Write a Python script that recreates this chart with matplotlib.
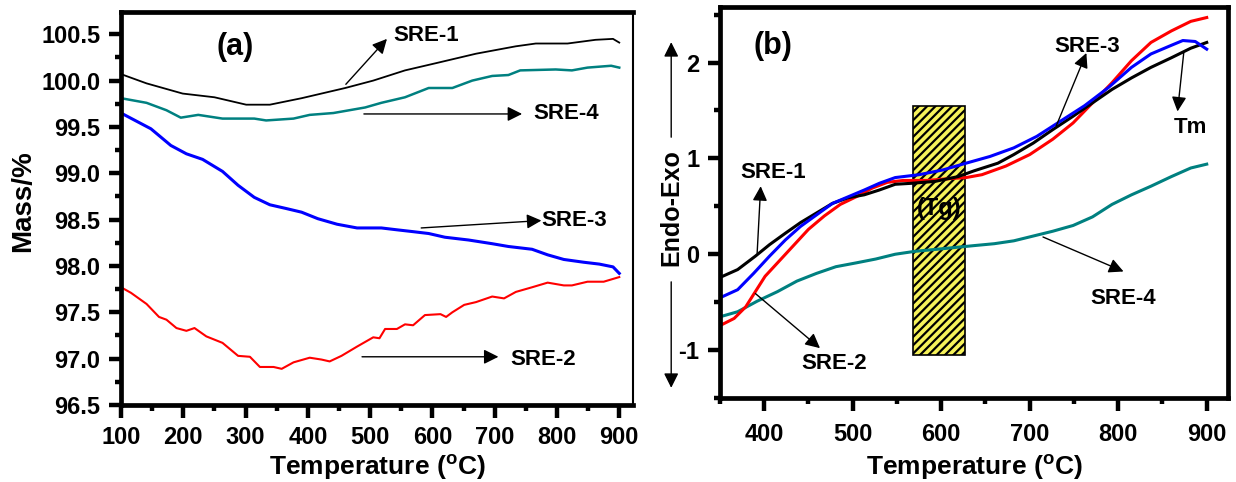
import matplotlib
matplotlib.use("Agg")
import matplotlib.pyplot as plt
from matplotlib.patches import Rectangle
from matplotlib.ticker import MultipleLocator, FormatStrFormatter

plt.rcParams["font.family"] = ["Liberation Sans", "DejaVu Sans"]
plt.rcParams["font.weight"] = "bold"
plt.rcParams["mathtext.fontset"] = "custom"
plt.rcParams["mathtext.rm"] = "Liberation Sans:bold"
plt.rcParams["mathtext.bf"] = "Liberation Sans:bold"
plt.rcParams["axes.unicode_minus"] = False
plt.rcParams["hatch.linewidth"] = 1.6

# ---- TGA data (a) ----
t1 = [100, 141, 199, 250, 301, 339, 390, 460, 505, 556, 607, 670, 734, 766, 817, 862, 890, 900]
m1 = [100.07, 99.97, 99.86, 99.82, 99.74, 99.74, 99.81, 99.92, 100.0, 100.11, 100.19, 100.29,
      100.37, 100.40, 100.40, 100.44, 100.45, 100.41]

t4 = [100, 141, 173, 196, 224, 263, 314, 333, 377, 403, 441, 492, 518, 556, 594, 632, 664,
      696, 722, 741, 798, 824, 849, 887, 900]
m4 = [99.81, 99.76, 99.68, 99.60, 99.63, 99.59, 99.59, 99.57, 99.59, 99.63, 99.65, 99.71,
      99.76, 99.82, 99.92, 99.92, 100.0, 100.05, 100.06, 100.11, 100.12, 100.11, 100.14,
      100.16, 100.14]

t3 = [100, 148, 180, 205, 231, 263, 288, 314, 339, 365, 390, 416, 447, 479, 518, 543, 569,
      594, 620, 658, 696, 722, 760, 785, 811, 843, 868, 890, 900]
m3 = [99.65, 99.48, 99.30, 99.21, 99.15, 99.02, 98.87, 98.74, 98.66, 98.62, 98.58, 98.51,
      98.45, 98.41, 98.41, 98.39, 98.37, 98.35, 98.31, 98.28, 98.24, 98.21, 98.18, 98.12,
      98.07, 98.04, 98.02, 97.99, 97.92]

t2 = [100, 116, 141, 161, 173, 189, 205, 218, 237, 263, 288, 307, 323, 345, 358, 377, 403,
      422, 435, 454, 479, 505, 515, 524, 543, 556, 569, 588, 613, 622, 632, 651, 670, 696,
      715, 734, 760, 785, 811, 824, 849, 875, 890, 900]
m2 = [97.77, 97.71, 97.59, 97.45, 97.42, 97.33, 97.30, 97.33, 97.24, 97.17, 97.03, 97.02,
      96.91, 96.91, 96.89, 96.96, 97.01, 96.99, 96.97, 97.03, 97.13, 97.23, 97.22, 97.32,
      97.32, 97.37, 97.36, 97.47, 97.48, 97.45, 97.50, 97.58, 97.61, 97.67, 97.65, 97.72,
      97.77, 97.82, 97.79, 97.79, 97.83, 97.83, 97.86, 97.88]

# ---- DSC data (b) ----
d1_t = [353, 370, 390, 406, 424, 441, 459, 477, 495, 513, 530, 548, 566, 593, 619, 637, 664,
        682, 704, 726, 749, 771, 793, 815, 837, 860, 882, 900]
d1 = [-0.23, -0.16, -0.02, 0.10, 0.22, 0.33, 0.43, 0.53, 0.59, 0.62, 0.67, 0.73, 0.74, 0.76,
      0.81, 0.87, 0.95, 1.04, 1.16, 1.30, 1.44, 1.58, 1.72, 1.84, 1.95, 2.05, 2.15, 2.21]

d2_t = [351, 366, 379, 390, 401, 415, 432, 450, 468, 486, 504, 522, 539, 557, 584, 611, 628,
        646, 673, 700, 726, 749, 771, 793, 815, 837, 860, 882, 900]
d2 = [-0.74, -0.67, -0.55, -0.39, -0.23, -0.09, 0.08, 0.26, 0.40, 0.52, 0.60, 0.69, 0.75,
      0.77, 0.77, 0.79, 0.80, 0.83, 0.92, 1.04, 1.20, 1.37, 1.58, 1.79, 2.02, 2.21, 2.33,
      2.43, 2.47]

d3_t = [351, 370, 388, 406, 424, 441, 459, 477, 495, 513, 530, 548, 575, 602, 628, 655, 682,
        708, 735, 762, 789, 815, 837, 860, 873, 887, 900]
d3 = [-0.45, -0.37, -0.20, -0.02, 0.15, 0.29, 0.41, 0.53, 0.60, 0.67, 0.74, 0.80, 0.83, 0.88,
      0.95, 1.02, 1.11, 1.23, 1.39, 1.55, 1.74, 1.95, 2.09, 2.18, 2.23, 2.22, 2.14]

d4_t = [351, 370, 392, 415, 437, 459, 481, 504, 526, 548, 570, 593, 615, 637, 660, 682, 704,
        726, 749, 771, 793, 815, 837, 860, 882, 900]
d4 = [-0.65, -0.60, -0.49, -0.39, -0.28, -0.20, -0.13, -0.09, -0.05, 0.0, 0.03, 0.05, 0.07,
      0.09, 0.11, 0.14, 0.19, 0.24, 0.30, 0.39, 0.52, 0.62, 0.71, 0.81, 0.90, 0.94]

tg_range = (568, 627)
tg_height = (-1.05, 1.55)

fig = plt.figure(figsize=(12.36, 4.82), dpi=100)
ax1 = fig.add_axes([0.0979, 0.1598, 0.4142, 0.8153])
ax2 = fig.add_axes([0.5825, 0.1743, 0.4110, 0.8112])


def style_axis(ax):
    for side in ["left", "bottom", "top", "right"]:
        ax.spines[side].set_linewidth(3.4)
    ax.tick_params(which="major", direction="out", length=9, width=3.2, labelsize=17, pad=6,
                   top=False, right=False)
    ax.tick_params(which="minor", direction="out", length=4.5, width=3.2, top=False, right=False)
    for lab in ax.get_xticklabels() + ax.get_yticklabels():
        lab.set_fontweight("bold")


arrow = dict(arrowstyle="-|>", color="black", lw=1, mutation_scale=22, shrinkA=0, shrinkB=0)

# (a) mass loss
ax1.plot(t1, m1, color="black", lw=1.3)
ax1.plot(t4, m4, color="#008080", lw=1.8)
ax1.plot(t3, m3, color="#0000ff", lw=2.2)
ax1.plot(t2, m2, color="#ff0000", lw=1.5)
ax1.set_xlim(100, 922)
ax1.set_ylim(96.5, 100.74)
ax1.xaxis.set_major_locator(MultipleLocator(100))
ax1.xaxis.set_minor_locator(MultipleLocator(50))
ax1.yaxis.set_major_locator(MultipleLocator(0.5))
ax1.yaxis.set_minor_locator(MultipleLocator(0.25))
ax1.yaxis.set_major_formatter(FormatStrFormatter("%.1f"))
style_axis(ax1)
ax1.spines["right"].set_linewidth(1.5)
ax1.set_xlabel(r"Temperature ($^{\mathbf{o}}$C)", fontsize=19, fontweight="bold")
ax1.set_ylabel("Mass/%", fontsize=20, fontweight="bold")
ax1.xaxis.set_label_coords(0.5, -0.12)
ax1.yaxis.set_label_coords(-0.165, 0.52)

ax1.text(283, 100.36, "(a)", fontsize=22, fontweight="bold", ha="center", va="center")
ax1.annotate("", xy=(527, 100.45), xytext=(461, 99.96), arrowprops=arrow)
ax1.text(537, 100.49, "SRE-1", fontsize=16, fontweight="bold", ha="left", va="center")
ax1.annotate("", xy=(744, 99.64), xytext=(490, 99.64), arrowprops=arrow)
ax1.text(762, 99.64, "SRE-4", fontsize=16, fontweight="bold", ha="left", va="center")
ax1.annotate("", xy=(775, 98.49), xytext=(582, 98.41), arrowprops=arrow)
ax1.text(775, 98.49, "SRE-3", fontsize=16, fontweight="bold", ha="left", va="center")
ax1.annotate("", xy=(706, 97.02), xytext=(487, 97.02), arrowprops=arrow)
ax1.text(725, 96.99, "SRE-2", fontsize=16, fontweight="bold", ha="left", va="center")

# (b) DSC curves
ax2.add_patch(Rectangle((tg_range[0], tg_height[0]), tg_range[1] - tg_range[0],
                        tg_height[1] - tg_height[0], facecolor="#f6f25a",
                        edgecolor="black", hatch="////", lw=1.2, zorder=1))
ax2.plot(d4_t, d4, color="#008080", lw=2.2, zorder=2)
ax2.plot(d2_t, d2, color="#ff0000", lw=2.2, zorder=2)
ax2.plot(d1_t, d1, color="black", lw=2.2, zorder=2)
ax2.plot(d3_t, d3, color="#0000ff", lw=2.2, zorder=2)
ax2.set_xlim(350, 924)
ax2.set_ylim(-1.5, 2.58)
ax2.xaxis.set_major_locator(MultipleLocator(100))
ax2.xaxis.set_minor_locator(MultipleLocator(50))
ax2.yaxis.set_major_locator(MultipleLocator(1))
ax2.yaxis.set_minor_locator(MultipleLocator(0.5))
style_axis(ax2)
ax2.tick_params(axis="x", which="major", pad=9)
ax2.set_xlabel(r"Temperature ($^{\mathbf{o}}$C)", fontsize=19, fontweight="bold")
ax2.xaxis.set_label_coords(0.5, -0.14)

ax2.text(598, 0.48, "(Tg)", fontsize=17, fontweight="bold", ha="center", va="center", zorder=3)
ax2.text(410, 2.17, "(b)", fontsize=22, fontweight="bold", ha="center", va="center")
ax2.annotate("", xy=(764, 2.10), xytext=(730, 1.34), arrowprops=arrow)
ax2.text(765, 2.17, "SRE-3", fontsize=16, fontweight="bold", ha="center", va="center")
ax2.annotate("", xy=(867, 1.49), xytext=(874, 2.10), arrowprops=arrow)
ax2.text(882, 1.32, "Tm", fontsize=16, fontweight="bold", ha="center", va="center")
ax2.annotate("", xy=(396, 0.71), xytext=(392, 0.01), arrowprops=arrow)
ax2.text(410, 0.85, "SRE-1", fontsize=16, fontweight="bold", ha="center", va="center")
ax2.annotate("", xy=(463, -0.98), xytext=(390, -0.41), arrowprops=arrow)
ax2.text(479, -1.14, "SRE-2", fontsize=16, fontweight="bold", ha="center", va="center")
ax2.annotate("", xy=(806, -0.18), xytext=(715, 0.18), arrowprops=arrow)
ax2.text(806, -0.46, "SRE-4", fontsize=16, fontweight="bold", ha="center", va="center")

# y label flanked by direction arrows
ax2.text(-0.096, 0.488, "Endo-Exo", transform=ax2.transAxes, rotation=90, fontsize=18,
         fontweight="bold", ha="center", va="center")
ax2.annotate("", xy=(-0.096, 0.91), xytext=(-0.096, 0.667), xycoords="axes fraction",
             textcoords="axes fraction", arrowprops=arrow, annotation_clip=False)
ax2.annotate("", xy=(-0.096, 0.026), xytext=(-0.096, 0.297), xycoords="axes fraction",
             textcoords="axes fraction", arrowprops=arrow, annotation_clip=False)

fig.savefig("out.png", dpi=100)
